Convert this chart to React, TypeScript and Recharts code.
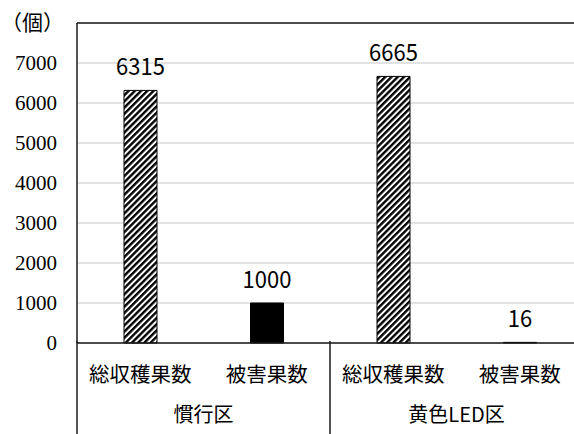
import React from "react";
import { BarChart, Bar, XAxis, YAxis, CartesianGrid, Cell, LabelList, ReferenceLine } from "recharts";

const categories = ["総収穫果数", "被害果数", "総収穫果数", "被害果数"];
const groups = ["慣行区", "黄色LED区"];
const values = [6315, 1000, 6665, 16];
const yTicks = [0, 1000, 2000, 3000, 4000, 5000, 6000, 7000, 8000];
const unitLabel = "（個）";

const data = categories.map((c, i) => ({
  name: c,
  group: groups[Math.floor(i / 2)],
  value: values[i],
  kind: i % 2 === 0 ? "total" : "damage",
}));

const W = 574;
const H = 434;
const LINE = "#1a1a1a";
const CJK = "Noto Sans CJK JP";
const SERIF = "Liberation Serif";

const YTick = (props: any) => {
  const { x, y, payload } = props;
  if (payload.value === 8000) {
    return (
      <text x={1} y={y} dy={7} fontFamily={CJK} fontSize={21} fill="#000" textAnchor="start">
        {unitLabel}
      </text>
    );
  }
  return (
    <text x={x} y={y} dy={7} fontFamily={SERIF} fontSize={21} fill="#000" textAnchor="end">
      {String(payload.value)}
    </text>
  );
};

const XTick = (props: any) => {
  const { x, y, payload, index } = props;
  const half = payload && payload.offset ? payload.offset : 63.25;
  const items: any[] = [];
  items.push(
    <text key="sub" x={x} y={y + 31} fontFamily={CJK} fontSize={20.5} fill="#000" textAnchor="middle">
      {payload.value}
    </text>
  );
  if (index % 2 === 0) {
    items.push(
      <text key="grp" x={x + half} y={y + 71} fontFamily={CJK} fontSize={20} fill="#000" textAnchor="middle">
        {data[index].group}
      </text>
    );
    items.push(
      <line key="sep" x1={x - half} x2={x - half} y1={y - 10} y2={H} stroke={LINE} strokeWidth={1.5} />
    );
  }
  return <g>{items}</g>;
};

const ValueLabel = (props: any) => {
  const { x, y, width, value } = props;
  const s = String(value);
  return (
    <text
      x={x + width / 2}
      y={y - 15}
      fontFamily={CJK}
      fontSize={24}
      fill="#000"
      textAnchor="middle"
      textLength={12.2 * s.length}
      lengthAdjust="spacingAndGlyphs"
    >
      {s}
    </text>
  );
};

export default function App() {
  return (
    <div style={{ position: "absolute", left: 0, top: 0, width: W, height: H, overflow: "hidden", background: "#fff" }}>
      <BarChart width={W} height={H} data={data} margin={{ top: 23, right: -9, bottom: 0, left: 0 }} barSize={33}>
        <defs>
          <pattern id="hatch" width="4.4" height="4.4" patternUnits="userSpaceOnUse" patternTransform="rotate(45)">
            <rect x="0" y="0" width="4.4" height="4.4" fill="#fff" />
            <rect x="0" y="0" width="2.4" height="4.4" fill="#000" />
          </pattern>
        </defs>
        <CartesianGrid vertical={false} stroke="#d9d9d9" strokeWidth={1.5} />
        <YAxis
          width={77}
          domain={[0, 8000]}
          ticks={yTicks}
          interval={0}
          tick={<YTick />}
          tickLine={false}
          axisLine={{ stroke: LINE, strokeWidth: 1.5 }}
          tickSize={6}
          tickMargin={14}
        />
        <XAxis
          dataKey="name"
          height={91}
          interval={0}
          tick={<XTick />}
          tickLine={false}
          axisLine={{ stroke: LINE, strokeWidth: 1.5 }}
        />
        <ReferenceLine y={8000} stroke={LINE} strokeWidth={1.5} />
        <Bar dataKey="value" isAnimationActive={false}>
          {data.map((d, i) => (
            <Cell key={i} fill={d.kind === "total" ? "url(#hatch)" : "#000"} stroke="#000" strokeWidth={1} />
          ))}
          <LabelList dataKey="value" content={<ValueLabel />} />
        </Bar>
      </BarChart>
    </div>
  );
}
